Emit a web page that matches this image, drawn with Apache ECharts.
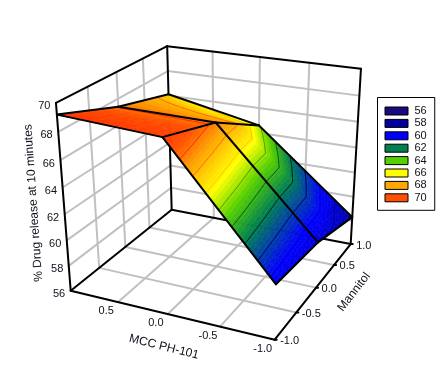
<!DOCTYPE html>
<html>
<head>
<meta charset="utf-8">
<style>
  html, body { margin: 0; padding: 0; background: #fff; }
  #chart { width: 436px; height: 377px; }
</style>
<script src="https://cdn.jsdelivr.net/npm/echarts@6/dist/echarts.min.js"></script>
</head>
<body>
<div id="chart"></div>
<script>
// values
const xMesh = [1, 0, -1];          // MCC PH-101
const yMesh = [-1, 0, 1];          // Mannitol
// release per x (rows) and y (columns), the black mesh
const zSurface = [
  [69.2, 67.4, 66.1],
  [68.8, 67.3, 64.6],
  [60.1, 59.6, 58.3],
];
// finer read of the colour contours, same rows, columns at yShade
const yShade = [-1, -0.5, 0, 0.5, 1];
const zShade = [
  [69.2, 68.3, 67.4, 66.9, 66.1],
  [68.8, 68.05, 67.3, 66.5, 64.6],
  [60.1, 59.85, 59.6, 59.3, 58.3],
];
const xTicks = [1, 0.5, 0, -0.5, -1];
const yTicks = [-1, -0.5, 0, 0.5, 1];
const zTicks = [56, 58, 60, 62, 64, 66, 68, 70];
const legendLevels = ["56", "58", "60", "62", "64", "66", "68", "70"];
const levelColors = ["#1a0a80", "#0000a0", "#0000ff", "#008050", "#55d000", "#ffff00", "#ffa800", "#ff5000"];
const contourLevels = [57.5, 58.5, 59.5, 60.5, 61.5, 62.5, 63.5, 64.5, 65.5, 66.5, 67.5];
const xTitle = "MCC PH-101";
const yTitle = "Mannitol";
const zTitle = "% Drug release at 10 minutes";

// where each legend colour actually sits on the surface, the last pair runs on past the top
const fillAnchors = [57, 58.3, 60.5, 62.6, 64, 65.3, 66.8, 68];
const fillTop = [69.3, "#ff3000"];

const bandStep = 0.2;
const meshSub = 8;
const labelFont = "11px 'Liberation Sans', Arial, sans-serif";
const titleFont = "12px 'Liberation Sans', Arial, sans-serif";

// perspective camera of the box, homogeneous [px, py, w]
const camOrigin = [70.7, 290.7, 1];
const camS = [179.3, 18.5, -0.0899];
const camT = [131.5, -43.7, 0.1778];
const camR = [-19.5, -196.5, -0.085];

function project(x, y, z) {
  const s = (1 - x) / 2;
  const t = (y + 1) / 2;
  const r = (z - 56) / 14;
  const h = [0, 1, 2].map((i) => camOrigin[i] + s * camS[i] + t * camT[i] + r * camR[i]);
  return [h[0] / h[2], h[1] / h[2]];
}

function hexRgb(c) {
  return [1, 3, 5].map((i) => parseInt(c.substr(i, 2), 16));
}

// colour for a release value, blended between the legend colours
function colorAt(z) {
  const at = fillAnchors.concat(fillTop[0]);
  const cols = levelColors.concat(fillTop[1]);
  if (z <= at[0]) return hexRgb(cols[0]);
  let i = 0;
  while (i < at.length - 2 && z > at[i + 1]) i++;
  const f = Math.min(1, (z - at[i]) / (at[i + 1] - at[i]));
  const a = hexRgb(cols[i]);
  const b = hexRgb(cols[i + 1]);
  return a.map((v, k) => Math.round(v + (b[k] - v) * f));
}

function rgb(c) {
  return "rgb(" + c.join(",") + ")";
}

function lineEl(a, b, color, width) {
  return {
    type: "line",
    silent: true,
    shape: { x1: a[0], y1: a[1], x2: b[0], y2: b[1] },
    style: { stroke: color, lineWidth: width, lineCap: "round" },
  };
}

function textEl(text, x, y, font, align, rotation) {
  return {
    type: "text",
    silent: true,
    x: x,
    y: y,
    rotation: rotation || 0,
    style: { text: text, font: font, fill: "#10101c", align: align, verticalAlign: "middle" },
  };
}

// walls and floor
function renderBox() {
  const grey = "#c0c0c0";
  const kids = [];
  const grid = (a, b) => kids.push(lineEl(project(a[0], a[1], a[2]), project(b[0], b[1], b[2]), grey, 2));
  zTicks.slice(1, -1).forEach((z) => {
    grid([1, -1, z], [1, 1, z]);
    grid([1, 1, z], [-1, 1, z]);
  });
  xTicks.slice(1, -1).forEach((x) => {
    grid([x, -1, 56], [x, 1, 56]);
    grid([x, 1, 56], [x, 1, 70]);
  });
  yTicks.slice(1, -1).forEach((y) => {
    grid([1, y, 56], [-1, y, 56]);
    grid([1, y, 56], [1, y, 70]);
  });
  const edge = (a, b) => kids.push(lineEl(project(a[0], a[1], a[2]), project(b[0], b[1], b[2]), "#000", 2));
  edge([1, -1, 56], [-1, -1, 56]);
  edge([-1, -1, 56], [-1, 1, 56]);
  edge([-1, 1, 56], [1, 1, 56]);
  edge([1, 1, 56], [1, -1, 56]);
  edge([1, -1, 56], [1, -1, 70]);
  edge([1, 1, 56], [1, 1, 70]);
  edge([-1, 1, 56], [-1, 1, 70]);
  edge([1, -1, 70], [1, 1, 70]);
  edge([1, 1, 70], [-1, 1, 70]);
  yTicks.forEach((y) => {
    const a = project(-1, y, 56);
    kids.push(lineEl(a, [a[0] + 2, a[1]], "#000", 2));
  });
  return { type: "group", children: kids };
}

function surfaceZ(i, j, u, v) {
  const a = zSurface[i][j];
  const b = zSurface[i + 1][j];
  const c = zSurface[i][j + 1];
  const d = zSurface[i + 1][j + 1];
  return (a * (1 - u) + b * u) * (1 - v) + (c * (1 - u) + d * u) * v;
}

// contour value at row i + u and a y position
function shadeAt(i, u, y) {
  let k = 0;
  while (k < yShade.length - 2 && y > yShade[k + 1]) k++;
  const v = (y - yShade[k]) / (yShade[k + 1] - yShade[k]);
  const row = (r) => zShade[r][k] * (1 - v) + zShade[r][k + 1] * v;
  return row(i) * (1 - u) + row(i + 1) * u;
}

// keep the part of a triangle on one side of a contour value; points are [x, y, z, shade]
function clipShade(poly, level, keepAbove) {
  const out = [];
  poly.forEach((p, k) => {
    const q = poly[(k + 1) % poly.length];
    const pIn = keepAbove ? p[3] >= level : p[3] <= level;
    const qIn = keepAbove ? q[3] >= level : q[3] <= level;
    if (pIn) out.push(p);
    if (pIn !== qIn) {
      const f = (level - p[3]) / (q[3] - p[3]);
      out.push(p.map((v, n) => v + (q[n] - v) * f));
    }
  });
  return out;
}

function triangleEls(tri, kids) {
  const zs = tri.map((p) => p[3]);
  const lo = Math.floor(Math.min(...zs) / bandStep);
  const hi = Math.floor(Math.max(...zs) / bandStep);
  for (let b = lo; b <= hi; b++) {
    const piece = clipShade(clipShade(tri, b * bandStep, true), (b + 1) * bandStep, false);
    if (piece.length < 3) continue;
    const c = rgb(colorAt((b + 0.5) * bandStep));
    kids.push({
      type: "polygon",
      silent: true,
      shape: { points: piece.map((p) => project(p[0], p[1], p[2])) },
      style: { fill: c, stroke: c, lineWidth: 0.6 },
    });
  }
}

function contourEls(tri, kids) {
  contourLevels.forEach((level) => {
    const pts = [];
    tri.forEach((p, k) => {
      const q = tri[(k + 1) % 3];
      if (p[3] < level !== q[3] < level) {
        const f = (level - p[3]) / (q[3] - p[3]);
        pts.push(project(p[0] + (q[0] - p[0]) * f, p[1] + (q[1] - p[1]) * f, p[2] + (q[2] - p[2]) * f));
      }
    });
    if (pts.length === 2) {
      const c = colorAt(level);
      const dark = [c[0] * c[0] / 255, 0.85 * c[1] * c[1] / 255, 0.85 * c[2] * c[2] / 255].map(Math.round);
      kids.push(lineEl(pts[0], pts[1], rgb(dark), 1));
    }
  });
}

function renderSurface() {
  const fills = [];
  const lines = [];
  // back corner first: high x, high y
  for (let i = 0; i < xMesh.length - 1; i++) {
    for (let si = 0; si < meshSub; si++) {
      for (let j = yMesh.length - 2; j >= 0; j--) {
        for (let sj = meshSub - 1; sj >= 0; sj--) {
          const node = (a, b) => {
            const u = (si + a) / meshSub;
            const v = (sj + b) / meshSub;
            const y = yMesh[j] + (yMesh[j + 1] - yMesh[j]) * v;
            return [xMesh[i] + (xMesh[i + 1] - xMesh[i]) * u, y, surfaceZ(i, j, u, v), shadeAt(i, u, y)];
          };
          const t1 = [node(0, 0), node(1, 0), node(1, 1)];
          const t2 = [node(0, 0), node(1, 1), node(0, 1)];
          [t2, t1].forEach((t) => {
            triangleEls(t, fills);
            contourEls(t, lines);
          });
        }
      }
    }
  }
  const mesh = [];
  xMesh.forEach((x, i) => {
    for (let j = 0; j < yMesh.length - 1; j++) {
      mesh.push(lineEl(project(x, yMesh[j], zSurface[i][j]), project(x, yMesh[j + 1], zSurface[i][j + 1]), "#000", 2));
    }
  });
  yMesh.forEach((y, j) => {
    for (let i = 0; i < xMesh.length - 1; i++) {
      mesh.push(lineEl(project(xMesh[i], y, zSurface[i][j]), project(xMesh[i + 1], y, zSurface[i + 1][j]), "#000", 2));
    }
  });
  return { type: "group", children: fills.concat(lines, mesh) };
}

function renderLabels() {
  const kids = [];
  zTicks.forEach((z) => {
    const p = project(1, -1, z);
    kids.push(textEl(String(z), p[0] - 5.5, p[1] + 3.5, labelFont, "right"));
  });
  xTicks.slice(1).forEach((x) => {
    const p = project(x, -1, 56);
    kids.push(textEl(x.toFixed(1), p[0] - 12, p[1] + 9, labelFont, "center"));
  });
  yTicks.forEach((y) => {
    const p = project(-1, y, 56);
    kids.push(textEl(y.toFixed(1), p[0] + 5.5, p[1] + 1.5, labelFont, "left"));
  });
  kids.push(textEl(xTitle, 164, 347, titleFont, "center", (-14 * Math.PI) / 180));
  kids.push(textEl(yTitle, 354, 292, titleFont, "center", (52 * Math.PI) / 180));
  kids.push(textEl(zTitle, 33.5, 203, titleFont, "center", (94 * Math.PI) / 180));
  return { type: "group", children: kids };
}

const chart = echarts.init(document.getElementById("chart"), null, { renderer: "canvas" });

const legendSeries = legendLevels.map((name, i) => ({
  name: name,
  type: "custom",
  coordinateSystem: "none",
  itemStyle: { color: levelColors[i] },
  renderItem: () => null,
  data: [],
}));

const drawSeries = [renderBox, renderSurface, renderLabels].map((fn, i) => ({
  type: "custom",
  coordinateSystem: "none",
  z: 2 + i,
  silent: true,
  renderItem: fn,
  data: [0],
}));

chart.setOption({
  animation: false,
  backgroundColor: "#fff",
  tooltip: { show: false },
  legend: {
    data: legendLevels,
    orient: "vertical",
    left: 377.5,
    top: 97.5,
    padding: [8, 8, 7, 7],
    itemWidth: 23,
    itemHeight: 8,
    itemGap: 1.4,
    icon: "rect",
    selectedMode: false,
    backgroundColor: "#fff",
    borderColor: "#000",
    borderWidth: 1,
    itemStyle: { borderColor: "#000", borderWidth: 1 },
    textStyle: { color: "#10101c", fontSize: 11, fontFamily: "'Liberation Sans', Arial, sans-serif", padding: [0, 0, 0, 1.5] },
  },
  series: legendSeries.concat(drawSeries),
});
</script>
</body>
</html>
